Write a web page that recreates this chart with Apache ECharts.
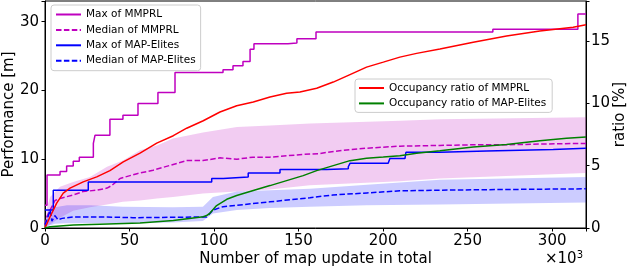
<!DOCTYPE html>
<html><head><meta charset="utf-8">
<script src="https://cdn.jsdelivr.net/npm/echarts@6/dist/echarts.min.js"></script>
<style>html,body{margin:0;padding:0;background:#fff}#c{width:630px;height:270px}</style>
</head><body><div id="c"></div>
<script>
// x values in thousands of map updates
const xTicks = [0, 50, 100, 150, 200, 250, 300];
const leftTicks = [0, 10, 20, 30];
const rightTicks = [0, 5, 10, 15];

const mmprlMaxX = [0, 1.2, 8.9, 12.8, 16.7, 20.3, 28.6, 29.6, 38.4, 46.1, 55, 66.8, 76.9, 105.3, 111.2, 117.1, 121.3, 123.6, 143.7, 149, 160.3, 264.9, 315.2, 320];
const mmprlMaxY = [3.3, 7.7, 8.2, 9.0, 9.7, 10.3, 12.3, 13.5, 15.8, 16.4, 18.1, 19.7, 22.6, 23.0, 23.6, 24.2, 26.0, 26.8, 26.9, 27.5, 28.5, 28.9, 31.1, 31.1];

const mmprlMedX = [0, 1, 3, 5.9, 8.9, 16.6, 22.5, 30.8, 36.7, 39.6, 44.4, 54.4, 63.9, 73.9, 84, 93.4, 103.5, 113.5, 123, 133, 143.1, 152.6, 162.6, 166.8, 180.4, 190.4, 209.9, 233.6, 253.1, 273.2, 292.7, 320];
const mmprlMedY = [0.4, 1.6, 2.6, 4.0, 4.3, 4.8, 5.3, 5.5, 5.8, 6.2, 7.2, 7.9, 8.4, 9.1, 9.8, 9.8, 10.2, 10.0, 10.3, 10.3, 10.5, 10.7, 10.8, 11.0, 11.4, 11.6, 11.9, 12.0, 12.1, 12.1, 12.2, 12.3];

const mmprlBandX = [0, 1.2, 3.0, 8.9, 16.6, 26.6, 36.7, 46.1, 56.2, 66.2, 75.7, 93.4, 113.5, 133, 156.7, 210, 233.6, 320];
const mmprlBandHi = [0.5, 3, 4.5, 6.0, 6.7, 7.4, 8.9, 9.8, 11.3, 12.0, 13.0, 13.9, 14.7, 14.9, 15.2, 15.6, 15.8, 16.1];
const mmprlBandLo = [0, 0.3, 0.5, 1.5, 2.5, 3.0, 3.4, 3.8, 4.0, 4.3, 4.5, 5.0, 5.3, 5.6, 6.2, 6.8, 7.2, 8.0];

const meMaxX = [0, 4.9, 25.6, 98.6, 105.4, 120.2, 139, 166.6, 179.4, 180.4, 203, 204, 212.9, 213.5, 233.6, 261.2, 300.6, 320];
const meMaxY = [2.6, 5.5, 6.7, 7.2, 7.4, 8.0, 8.5, 8.6, 8.9, 9.4, 9.6, 10.1, 10.3, 11.0, 11.2, 11.4, 11.6, 11.6];

const meMedX = [0, 1.2, 3.0, 4.1, 5.9, 7.7, 10.1, 16.6, 36.7, 52, 93.4, 95.6, 99.3, 105.3, 113.5, 133, 156.7, 170.3, 190.4, 209.9, 233.6, 273.2, 320];
const meMedY = [0.5, 1.2, 2.6, 1.0, 1.8, 1.2, 1.4, 1.6, 1.6, 1.5, 1.6, 1.6, 2.6, 3.1, 3.3, 3.8, 4.4, 4.8, 5.1, 5.4, 5.5, 5.6, 5.7];

const meBandX = [0, 1.8, 5.9, 13, 26.6, 46.1, 75.7, 93.4, 99.3, 113.5, 133, 156.7, 190.4, 233.6, 320];
const meBandHi = [0.5, 2.5, 3.0, 3.3, 3.3, 3.1, 3.0, 3.1, 4.5, 5.3, 5.5, 5.7, 6.3, 7.0, 7.4];
const meBandLo = [0, 0.3, 0.6, 0.7, 0.7, 0.7, 0.8, 1.0, 2.1, 2.6, 2.9, 3.1, 3.3, 3.4, 3.7];

const occMmprlX = [0, 1.0, 3.0, 6.9, 10.8, 14.8, 22.6, 30.6, 38.4, 46.3, 56.2, 66.1, 75.9, 83.8, 93.6, 103.5, 113.4, 123.2, 133.1, 142.9, 150.8, 160.7, 170.5, 180.4, 190.2, 200.1, 209.9, 219.8, 233.6, 253.3, 273, 292.7, 312.4, 320];
const occMmprlY = [0, 0.1, 0.9, 2.0, 2.8, 3.2, 3.7, 4.1, 4.6, 5.3, 6.0, 6.8, 7.4, 8.0, 8.6, 9.3, 9.8, 10.1, 10.5, 10.8, 10.9, 11.2, 11.7, 12.3, 12.9, 13.3, 13.7, 14.0, 14.35, 14.9, 15.4, 15.8, 16.1, 16.3];

const occMeX = [0, 3.0, 16.7, 32.5, 56.2, 75.9, 93.6, 95.6, 97.6, 101.5, 107.5, 113.4, 123.2, 133.1, 142.9, 152.7, 160.7, 170.5, 180.4, 190.2, 200.1, 209.9, 219.8, 233.6, 253.3, 273, 292.7, 308.5, 320];
const occMeY = [0, 0.1, 0.24, 0.3, 0.4, 0.6, 0.9, 1.0, 1.2, 1.8, 2.3, 2.6, 3.0, 3.4, 3.8, 4.2, 4.6, 5.0, 5.4, 5.6, 5.7, 5.8, 6.0, 6.2, 6.5, 6.7, 7.0, 7.2, 7.3];

const pairs = (xs, ys) => xs.map((x, i) => [x, ys[i]]);

const FONT = 'DejaVu Sans';
const MAG = '#bf00bf', BLUE = '#0000ff', RED = '#ff0000', GREEN = '#008000';
const DASH = [5.5, 2.4];

function bandSeries(xs, hi, lo, color) {
  return {
    type: 'custom', coordinateSystem: 'cartesian2d', xAxisIndex: 0, yAxisIndex: 0,
    silent: true, z: 1, data: [[xs[0], lo[0]]],
    renderItem: function (params, api) {
      const pts = [];
      for (let i = 0; i < xs.length; i++) pts.push(api.coord([xs[i], hi[i]]));
      for (let i = xs.length - 1; i >= 0; i--) pts.push(api.coord([xs[i], lo[i]]));
      return { type: 'polygon', shape: { points: pts }, style: { fill: color, stroke: null } };
    }
  };
}

const chart = echarts.init(document.getElementById('c'), null, { renderer: 'canvas' });
const legendBox = {
  orient: 'vertical', backgroundColor: 'rgba(255,255,255,0.8)', borderColor: '#cccccc',
  borderWidth: 1, borderRadius: 3, itemWidth: 25, itemHeight: 12, itemGap: 3.4,
  itemStyle: { opacity: 0 },
  textStyle: { fontFamily: FONT, fontSize: 10.5, color: '#000', lineHeight: 12 },
  selectedMode: false
};
const tickLabel = { fontFamily: FONT, fontSize: 15, color: '#000' };
chart.setOption({
  animation: false,
  textStyle: { fontFamily: FONT },
  grid: { left: 45, right: 44, top: 1, bottom: 42, show: true, borderColor: '#000', borderWidth: 1,
    backgroundColor: 'transparent', containLabel: false, outerBoundsMode: 'none' },
  legend: [
    Object.assign({}, legendBox, { left: 51, top: 5, padding: [3.5, 5, 4, 4],
      data: ['Max of MMPRL', 'Median of MMPRL', 'Max of MAP-Elites', 'Median of MAP-Elites'] }),
    Object.assign({}, legendBox, { left: 355, top: 79, padding: [3, 6, 3, 3],
      data: ['Occupancy ratio of MMPRL', 'Occupancy ratio of MAP-Elites'] })
  ],
  xAxis: {
    type: 'value', min: 0, max: 320, interval: 50,
    name: 'Number of map update in total', nameLocation: 'middle', nameGap: 24, nameMoveOverlap: false,
    nameTextStyle: { fontFamily: FONT, fontSize: 15, color: '#000' },
    axisLine: { lineStyle: { color: '#000', width: 1 } },
    axisTick: { length: 3.5, lineStyle: { color: '#000' } },
    axisLabel: Object.assign({ margin: 6, formatter: v => xTicks.includes(v) ? String(v) : '' }, tickLabel),
    splitLine: { show: false }
  },
  yAxis: [
    { type: 'value', min: 0, max: 33, interval: 10, position: 'left',
      name: 'Performance [m]', nameLocation: 'middle', nameRotate: 90, nameGap: 28, nameMoveOverlap: false,
      nameTextStyle: { fontFamily: FONT, fontSize: 15, color: '#000' },
      axisLine: { show: true, lineStyle: { color: '#000' } },
      axisTick: { show: true, length: 3.5, lineStyle: { color: '#000' } },
      axisLabel: Object.assign({ margin: 6, formatter: v => leftTicks.includes(v) ? String(v) : '' }, tickLabel),
      splitLine: { show: false } },
    { type: 'value', min: 0, max: 18.2, interval: 5, position: 'right',
      name: 'ratio [%]', nameLocation: 'middle', nameRotate: 90, nameGap: 27, nameMoveOverlap: false,
      nameTextStyle: { fontFamily: FONT, fontSize: 15, color: '#000' },
      axisLine: { show: true, lineStyle: { color: '#000' } },
      axisTick: { show: true, length: 3.5, lineStyle: { color: '#000' } },
      axisLabel: Object.assign({ margin: 5, formatter: v => rightTicks.includes(v) ? String(v) : '' }, tickLabel),
      splitLine: { show: false } }
  ],
  graphic: [{
    type: 'text', right: 47, top: 250,
    style: { text: '×10{s|3}', fontFamily: FONT, fontSize: 15, fill: '#000',
      rich: { s: { fontSize: 10, verticalAlign: 'top', padding: [0, 0, 8, 0], fontFamily: FONT } } }
  }],
  series: [
    bandSeries(mmprlBandX, mmprlBandHi, mmprlBandLo, 'rgba(191,0,191,0.2)'),
    bandSeries(meBandX, meBandHi, meBandLo, 'rgba(0,0,255,0.2)'),
    { name: 'Max of MMPRL', type: 'line', step: 'end', data: pairs(mmprlMaxX, mmprlMaxY), symbol: 'none',
      lineStyle: { color: MAG, width: 1.5 }, itemStyle: { color: MAG }, z: 3 },
    { name: 'Median of MMPRL', type: 'line', data: pairs(mmprlMedX, mmprlMedY), symbol: 'none',
      lineStyle: { color: MAG, width: 1.5, type: DASH }, itemStyle: { color: MAG }, z: 3 },
    { name: 'Max of MAP-Elites', type: 'line', step: 'end', data: pairs(meMaxX, meMaxY), symbol: 'none',
      lineStyle: { color: BLUE, width: 1.5 }, itemStyle: { color: BLUE }, z: 3 },
    { name: 'Median of MAP-Elites', type: 'line', data: pairs(meMedX, meMedY), symbol: 'none',
      lineStyle: { color: BLUE, width: 1.5, type: DASH }, itemStyle: { color: BLUE }, z: 3 },
    { name: 'Occupancy ratio of MMPRL', type: 'line', yAxisIndex: 1, data: pairs(occMmprlX, occMmprlY), symbol: 'none',
      lineStyle: { color: RED, width: 1.5 }, itemStyle: { color: RED }, z: 4 },
    { name: 'Occupancy ratio of MAP-Elites', type: 'line', yAxisIndex: 1, data: pairs(occMeX, occMeY), symbol: 'none',
      lineStyle: { color: GREEN, width: 1.5 }, itemStyle: { color: GREEN }, z: 4 }
  ]
});
</script></body></html>
